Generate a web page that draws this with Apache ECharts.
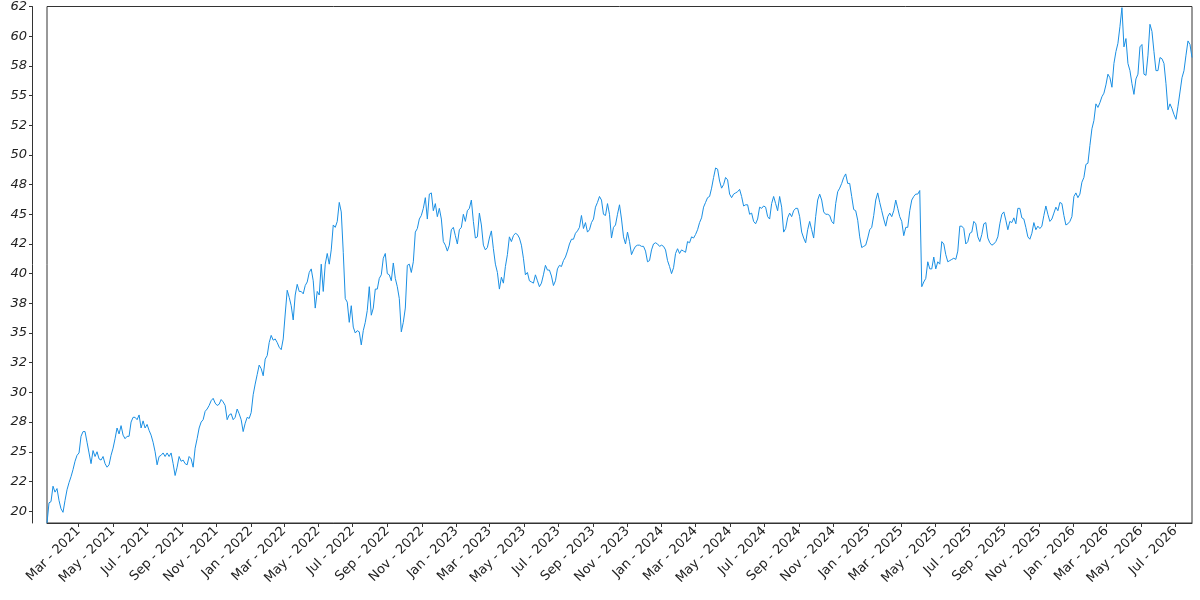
<!DOCTYPE html>
<html>
<head>
<meta charset="utf-8">
<script src="https://cdn.jsdelivr.net/npm/echarts@6/dist/echarts.min.js"></script>
<style>
  html, body { margin: 0; padding: 0; background: #fff; }
  #chart { width: 1200px; height: 600px; }
</style>
</head>
<body>
<div id="chart"></div>
<script>
// ---- data ----
const startDate = '2021-01-04';
const endDate = '2026-07-31';

const values2021a = [19.0, 20.7, 20.8, 22.1, 21.6, 21.9, 20.9, 20.2, 19.9, 20.9,
  21.8, 22.4, 22.9, 23.5, 24.2, 24.7, 24.9, 26.3, 26.7, 26.7,
  25.8, 24.9, 24.0, 25.1, 24.6, 25.0, 24.4, 24.3, 24.6, 24.0,
  23.7, 23.9, 24.7, 25.3, 26.1, 27.0, 26.5, 27.2, 26.4, 26.1,
  26.3, 26.3, 27.5, 27.9, 27.9, 27.7, 28.1, 27.0, 27.6, 27.0,
  27.3, 26.8, 26.4, 25.8, 25.0, 23.9, 24.6, 24.7, 24.9, 24.6,
  24.9, 24.6, 24.9, 24.0, 23.0, 23.7, 24.6, 24.2, 24.3, 24.0,
  23.9, 24.6];
const values2021b = [24.4, 23.7, 25.3, 26.1, 27.0, 27.5, 27.7, 28.4, 28.6, 28.9,
  29.3, 29.5, 29.1, 28.9, 29.0, 29.4, 29.2, 28.9, 27.7, 28.1,
  28.2, 27.7, 27.9, 28.6, 28.2, 27.7, 26.7, 27.4, 27.9, 27.8,
  28.3, 29.8, 30.7, 31.5, 32.3, 32.0, 31.4, 32.8, 33.1, 34.2,
  34.8, 34.4, 34.5, 34.2, 33.8, 33.6, 34.5, 36.6, 38.6, 38.0,
  37.3, 36.1, 38.2, 39.1, 38.5, 38.5, 38.3, 39.0, 39.3, 40.1,
  40.4, 39.4, 37.1];
const values2022 = [38.5, 38.2, 40.8, 38.5, 40.8, 41.7, 40.8, 42.0, 44.1, 43.9,
  44.4, 46.0, 45.2, 41.8, 37.9, 37.6, 35.9, 37.3, 35.5, 35.0,
  35.2, 35.1, 34.0, 35.2, 35.9, 36.9, 38.9, 36.5, 37.1, 38.7,
  38.7, 39.6, 39.9, 41.3, 41.7, 40.0, 39.9, 39.4, 40.9, 39.6,
  38.9, 37.9, 35.1, 35.9, 37.1, 40.7, 40.8, 40.1, 41.0, 43.5,
  43.8, 44.6, 44.9, 45.5, 46.4, 44.6, 46.7, 46.8, 45.3, 45.9,
  44.8, 45.5, 44.6, 42.7, 42.4];
const values2023a = [41.9, 42.4, 43.7, 43.9, 43.2, 42.5, 43.7, 43.9, 45.0, 44.4,
  45.3, 45.5, 46.2, 44.4, 43.0, 43.1, 45.1, 44.1, 42.4, 42.0,
  42.2, 43.0, 43.6, 42.1, 40.8, 40.1, 38.7, 39.7, 39.2, 40.6,
  41.6, 43.1, 42.7, 43.2, 43.4, 43.3, 43.0, 42.4, 41.3, 39.9,
  40.1, 39.4, 39.3, 39.2, 39.9, 39.4, 38.9, 39.2, 39.9, 40.7,
  40.3, 40.3, 39.8, 39.0, 39.4, 40.4, 40.7, 40.6, 41.1, 41.4,
  41.9, 42.5, 42.9];
const values2023b = [42.9, 43.4, 43.6, 43.9, 44.9, 43.8, 44.3, 43.5, 43.7, 44.3,
  44.6, 45.6, 46.0, 46.5, 46.2, 45.0, 44.9, 45.9, 45.0, 43.0,
  43.9, 44.1, 45.0, 45.8, 44.6, 43.1, 42.5, 43.5, 42.7, 41.6,
  42.0, 42.3, 42.4, 42.4, 42.3, 42.3, 41.9, 41.0, 41.1, 42.0,
  42.5, 42.6, 42.5, 42.3, 42.4, 42.3, 42.0, 41.1, 40.6, 40.0,
  40.5, 41.7, 42.1, 41.7, 42.0, 41.9, 41.8, 42.7, 42.6, 43.1,
  43.0, 43.3, 43.7, 44.3, 44.7];
const values2024 = [45.6, 46.0, 46.4, 46.5, 47.2, 48.1, 48.9, 48.8, 47.8, 47.2,
  47.5, 48.1, 47.9, 46.7, 46.4, 46.7, 46.8, 46.9, 47.1, 46.5,
  45.7, 45.8, 45.8, 45.0, 45.1, 44.4, 44.2, 44.6, 45.6, 45.5,
  45.7, 45.6, 44.8, 44.6, 45.9, 46.5, 45.9, 45.3, 46.5, 45.6,
  43.5, 43.8, 44.7, 45.1, 44.8, 45.3, 45.5, 45.5, 44.8, 43.5,
  43.0, 42.6, 43.7, 44.4, 43.7, 43.0, 44.8, 46.2, 46.7, 46.2,
  45.2, 45.0, 45.0];
const values2025a = [44.9, 44.4, 44.2, 45.9, 46.9, 47.2, 47.6, 48.1, 48.4, 47.6,
  47.6, 46.5, 45.4, 45.3, 44.5, 43.1, 42.2, 42.3, 42.4, 43.0,
  43.7, 43.9, 44.9, 46.2, 46.8, 46.0, 45.3, 44.6, 44.0, 44.8,
  45.1, 44.8, 45.3, 46.2, 45.5, 44.8, 44.4, 43.2, 43.9, 43.9,
  45.3, 46.2, 46.5, 46.7, 46.7, 47.0, 38.9, 39.3, 39.6, 41.0,
  40.4, 40.4, 41.4, 40.4, 41.0, 40.8, 42.7, 42.5, 41.6, 41.0,
  41.1, 41.2, 41.3, 41.2, 41.9];
const values2025b = [44.0, 44.0, 43.8, 42.5, 42.7, 43.4, 43.5, 44.4, 44.2, 43.1,
  42.7, 43.3, 44.2, 44.3, 43.0, 42.6, 42.4, 42.5, 42.7, 43.1,
  44.2, 45.0, 45.2, 44.5, 43.7, 44.4, 44.3, 44.7, 44.2, 45.5,
  45.5, 44.7, 44.6, 43.9, 43.1, 42.9, 43.4, 44.3, 43.7, 44.0,
  43.8, 44.0, 44.9, 45.7, 45.0, 44.4, 44.6, 45.1, 45.6, 45.3,
  46.0, 45.9, 44.9, 44.1, 44.2, 44.4, 44.8, 46.5, 46.8, 46.4,
  46.7, 47.7, 48.1];
const values2026 = [49.2, 49.3, 50.8, 52.2, 52.9, 54.3, 54.0, 54.4, 54.9, 55.2,
  55.9, 56.8, 56.5, 55.7, 57.7, 58.7, 59.4, 60.8, 62.4, 59.1,
  59.8, 57.7, 57.1, 56.0, 55.1, 56.4, 56.8, 59.1, 59.3, 56.8,
  56.7, 58.4, 61.0, 60.4, 58.7, 57.1, 57.1, 58.2, 58.1, 57.7,
  56.0, 53.8, 54.3, 53.9, 53.4, 53.0, 54.1, 55.3, 56.5, 57.1,
  58.4, 59.6, 59.3, 58.2];

const yTickValues = [20, 22.5, 25, 27.5, 30, 32.5, 35, 37.5, 40, 42.5, 45, 47.5, 50, 52.5, 55, 57.5, 60, 62.5];
const yTickLabels = ['20', '22', '25', '28', '30', '32', '35', '38', '40', '42', '45', '48', '50', '52', '55', '58', '60', '62'];
const xTickMonths = ['2021-03', '2021-05', '2021-07', '2021-09', '2021-11',
  '2022-01', '2022-03', '2022-05', '2022-07', '2022-09', '2022-11',
  '2023-01', '2023-03', '2023-05', '2023-07', '2023-09', '2023-11',
  '2024-01', '2024-03', '2024-05', '2024-07', '2024-09', '2024-11',
  '2025-01', '2025-03', '2025-05', '2025-07', '2025-09', '2025-11',
  '2026-01', '2026-03', '2026-05', '2026-07'];
const monthNames = ['Jan', 'Feb', 'Mar', 'Apr', 'May', 'Jun', 'Jul', 'Aug', 'Sep', 'Oct', 'Nov', 'Dec'];

// ---- build ----
function ts(s) {
  const p = s.split('-').map(Number);
  return Date.UTC(p[0], p[1] - 1, p[2] || 1);
}
const allValues = [].concat(values2021a, values2021b, values2022, values2023a, values2023b,
  values2024, values2025a, values2025b, values2026);
const t0 = ts(startDate), t1 = ts(endDate);
const step = (t1 - t0) / (allValues.length - 1);
const seriesData = allValues.map((v, i) => [t0 + i * step, v]);
const xTicks = xTickMonths.map(ts);

const chart = echarts.init(document.getElementById('chart'), null, { renderer: 'canvas' });
chart.setOption({
  animation: false,
  backgroundColor: '#ffffff',
  textStyle: { fontFamily: 'DejaVu Sans' },
  grid: { left: 47, right: 8, top: 6, bottom: 77, show: true, borderColor: '#333', borderWidth: 1 },
  xAxis: {
    type: 'value',
    min: t0,
    max: t1,
    scale: true,
    axisLine: { show: true, lineStyle: { color: '#333', width: 1 } },
    axisTick: { show: true, length: 4, customValues: xTicks, lineStyle: { color: '#333' } },
    axisLabel: {
      customValues: xTicks,
      rotate: 45,
      margin: 6,
      fontSize: 13,
      color: '#222',
      fontFamily: 'DejaVu Sans',
      formatter: function (v) {
        const d = new Date(v);
        return monthNames[d.getUTCMonth()] + ' - ' + d.getUTCFullYear();
      }
    },
    splitLine: { show: false }
  },
  yAxis: {
    type: 'value',
    min: 19,
    max: 62.5,
    offset: 15,
    axisLine: { show: true, lineStyle: { color: '#333', width: 1 } },
    axisTick: { show: true, length: 3, customValues: yTickValues, lineStyle: { color: '#333' } },
    axisLabel: {
      customValues: yTickValues,
      margin: 5,
      fontSize: 13,
      fontStyle: 'italic',
      color: '#222',
      fontFamily: 'DejaVu Sans',
      formatter: function (v) {
        const i = yTickValues.indexOf(v);
        return i >= 0 ? yTickLabels[i] : '';
      }
    },
    splitLine: { show: false }
  },
  series: [{
    type: 'line',
    data: seriesData,
    showSymbol: false,
    symbol: 'none',
    lineStyle: { width: 1, color: '#1a8fe3' },
    itemStyle: { color: '#1a8fe3' }
  }]
});
</script>
</body>
</html>
